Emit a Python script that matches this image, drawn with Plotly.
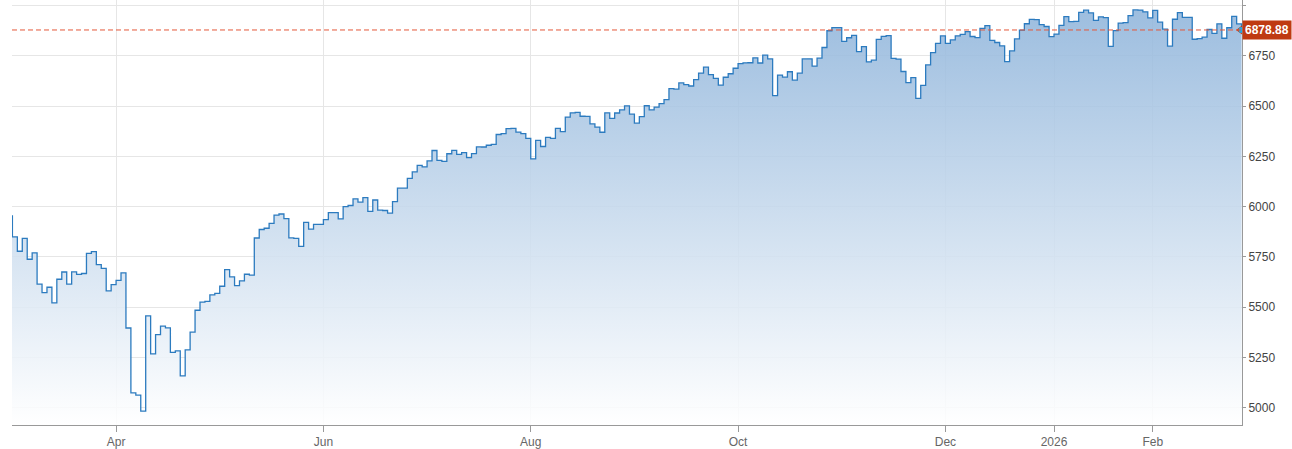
"""
S&P 500 one-year close chart (Mar 2025 - Feb 2026)
Trading-day axis (weekends and holidays removed), step line with gradient fill
"""

import plotly.graph_objects as go

# Daily closes, one entry per trading day
trade_dates = [
    "2025-02-28",
    "2025-03-03", "2025-03-04", "2025-03-05", "2025-03-06", "2025-03-07", "2025-03-10", "2025-03-11",
    "2025-03-12", "2025-03-13", "2025-03-14", "2025-03-17", "2025-03-18", "2025-03-19", "2025-03-20",
    "2025-03-21", "2025-03-24", "2025-03-25", "2025-03-26", "2025-03-27", "2025-03-28", "2025-03-31",
    "2025-04-01", "2025-04-02", "2025-04-03", "2025-04-04", "2025-04-07", "2025-04-08", "2025-04-09",
    "2025-04-10", "2025-04-11", "2025-04-14", "2025-04-15", "2025-04-16", "2025-04-17", "2025-04-21",
    "2025-04-22", "2025-04-23", "2025-04-24", "2025-04-25", "2025-04-28", "2025-04-29", "2025-04-30",
    "2025-05-01", "2025-05-02", "2025-05-05", "2025-05-06", "2025-05-07", "2025-05-08", "2025-05-09",
    "2025-05-12", "2025-05-13", "2025-05-14", "2025-05-15", "2025-05-16", "2025-05-19", "2025-05-20",
    "2025-05-21", "2025-05-22", "2025-05-23", "2025-05-27", "2025-05-28", "2025-05-29", "2025-05-30",
    "2025-06-02", "2025-06-03", "2025-06-04", "2025-06-05", "2025-06-06", "2025-06-09", "2025-06-10",
    "2025-06-11", "2025-06-12", "2025-06-13", "2025-06-16", "2025-06-17", "2025-06-18", "2025-06-20",
    "2025-06-23", "2025-06-24", "2025-06-25", "2025-06-26", "2025-06-27", "2025-06-30",
    "2025-07-01", "2025-07-02", "2025-07-03", "2025-07-07", "2025-07-08", "2025-07-09", "2025-07-10",
    "2025-07-11", "2025-07-14", "2025-07-15", "2025-07-16", "2025-07-17", "2025-07-18", "2025-07-21",
    "2025-07-22", "2025-07-23", "2025-07-24", "2025-07-25", "2025-07-28", "2025-07-29", "2025-07-30",
    "2025-07-31",
    "2025-08-01", "2025-08-04", "2025-08-05", "2025-08-06", "2025-08-07", "2025-08-08", "2025-08-11",
    "2025-08-12", "2025-08-13", "2025-08-14", "2025-08-15", "2025-08-18", "2025-08-19", "2025-08-20",
    "2025-08-21", "2025-08-22", "2025-08-25", "2025-08-26", "2025-08-27", "2025-08-28", "2025-08-29",
    "2025-09-02", "2025-09-03", "2025-09-04", "2025-09-05", "2025-09-08", "2025-09-09", "2025-09-10",
    "2025-09-11", "2025-09-12", "2025-09-15", "2025-09-16", "2025-09-17", "2025-09-18", "2025-09-19",
    "2025-09-22", "2025-09-23", "2025-09-24", "2025-09-25", "2025-09-26", "2025-09-29", "2025-09-30",
    "2025-10-01", "2025-10-02", "2025-10-03", "2025-10-06", "2025-10-07", "2025-10-08", "2025-10-09",
    "2025-10-10", "2025-10-13", "2025-10-14", "2025-10-15", "2025-10-16", "2025-10-17", "2025-10-20",
    "2025-10-21", "2025-10-22", "2025-10-23", "2025-10-24", "2025-10-27", "2025-10-28", "2025-10-29",
    "2025-10-30", "2025-10-31",
    "2025-11-03", "2025-11-04", "2025-11-05", "2025-11-06", "2025-11-07", "2025-11-10", "2025-11-11",
    "2025-11-12", "2025-11-13", "2025-11-14", "2025-11-17", "2025-11-18", "2025-11-19", "2025-11-20",
    "2025-11-21", "2025-11-24", "2025-11-25", "2025-11-26", "2025-11-28",
    "2025-12-01", "2025-12-02", "2025-12-03", "2025-12-04", "2025-12-05", "2025-12-08", "2025-12-09",
    "2025-12-10", "2025-12-11", "2025-12-12", "2025-12-15", "2025-12-16", "2025-12-17", "2025-12-18",
    "2025-12-19", "2025-12-22", "2025-12-23", "2025-12-24", "2025-12-26", "2025-12-29", "2025-12-30",
    "2025-12-31",
    "2026-01-02", "2026-01-05", "2026-01-06", "2026-01-07", "2026-01-08", "2026-01-09", "2026-01-12",
    "2026-01-13", "2026-01-14", "2026-01-15", "2026-01-16", "2026-01-20", "2026-01-21", "2026-01-22",
    "2026-01-23", "2026-01-26", "2026-01-27", "2026-01-28", "2026-01-29", "2026-01-30",
    "2026-02-02", "2026-02-03", "2026-02-04", "2026-02-05", "2026-02-06", "2026-02-09", "2026-02-10",
    "2026-02-11", "2026-02-12", "2026-02-13", "2026-02-17", "2026-02-18", "2026-02-19", "2026-02-20",
    "2026-02-23", "2026-02-24", "2026-02-25", "2026-02-26", "2026-02-27",
]

closes = [
    5954.50,
    5849.72, 5778.15, 5842.63, 5738.52, 5770.20, 5614.56, 5572.07,
    5599.30, 5521.52, 5638.94, 5675.12, 5614.66, 5675.29, 5662.89,
    5667.56, 5767.57, 5776.65, 5712.20, 5693.31, 5580.94, 5611.85,
    5633.07, 5670.97, 5396.52, 5074.08, 5062.25, 4982.77, 5456.90,
    5268.05, 5363.36, 5405.97, 5396.63, 5275.70, 5282.70, 5158.20,
    5287.76, 5375.86, 5484.77, 5525.21, 5528.75, 5560.83, 5569.06,
    5604.14, 5686.67, 5650.38, 5606.91, 5631.28, 5663.94, 5659.91,
    5844.19, 5886.55, 5892.58, 5916.93, 5958.38, 5963.60, 5940.46,
    5844.61, 5842.01, 5802.82, 5921.54, 5888.55, 5912.17, 5911.69,
    5935.94, 5970.37, 5970.81, 5939.30, 6000.36, 6005.88, 6038.81,
    6022.24, 6045.26, 5976.97, 6033.11, 5982.72, 5980.87, 5967.84,
    6025.17, 6092.18, 6092.16, 6141.02, 6173.07, 6204.95,
    6198.01, 6227.42, 6279.35, 6229.98, 6225.52, 6263.26, 6280.46,
    6259.75, 6268.56, 6243.76, 6263.70, 6297.36, 6296.79, 6305.60,
    6309.62, 6358.91, 6363.35, 6388.64, 6389.77, 6370.86, 6362.90,
    6339.39,
    6238.01, 6329.94, 6299.19, 6345.06, 6340.00, 6389.45, 6373.45,
    6445.76, 6466.58, 6468.54, 6449.80, 6449.15, 6411.37, 6395.78,
    6370.17, 6466.91, 6439.32, 6465.94, 6481.40, 6501.86, 6460.26,
    6415.54, 6448.26, 6502.08, 6481.50, 6495.15, 6512.61, 6532.04,
    6587.47, 6584.29, 6615.28, 6606.76, 6600.35, 6631.96, 6664.36,
    6693.75, 6656.92, 6637.97, 6604.72, 6643.70, 6661.21, 6688.46,
    6711.20, 6715.35, 6715.79, 6740.28, 6714.59, 6753.72, 6735.11,
    6552.51, 6654.72, 6644.31, 6671.06, 6629.07, 6664.01, 6735.13,
    6735.35, 6699.40, 6738.44, 6791.69, 6875.16, 6890.89, 6890.59,
    6822.34, 6840.20,
    6851.97, 6771.55, 6796.29, 6720.32, 6728.80, 6832.43, 6846.61,
    6850.92, 6737.49, 6734.11, 6672.41, 6617.32, 6642.16, 6538.76,
    6602.99, 6705.12, 6765.88, 6812.61, 6849.09,
    6812.63, 6829.37, 6849.72, 6857.12, 6870.40, 6846.51, 6840.51,
    6886.68, 6901.00, 6827.41, 6816.51, 6800.26, 6721.43, 6774.76,
    6834.50, 6878.49, 6909.79, 6932.05, 6929.94, 6905.74, 6896.24,
    6845.50,
    6858.47, 6902.05, 6944.82, 6920.93, 6921.46, 6966.28, 6977.27,
    6963.74, 6926.60, 6944.47, 6940.01, 6796.86, 6875.62, 6913.35,
    6915.61, 6950.23, 6978.60, 6978.03, 6969.01, 6939.03,
    6976.44, 6917.81, 6882.72, 6798.40, 6932.30, 6964.82, 6941.81,
    6941.47, 6832.76, 6836.17, 6843.22, 6881.31, 6861.89, 6909.51,
    6837.75, 6890.07, 6946.13, 6908.86, 6878.88,
]

# Market holidays inside the window (removed from the axis like weekends)
holidays = [
    "2025-04-18", "2025-05-26", "2025-06-19", "2025-07-04", "2025-09-01",
    "2025-11-27", "2025-12-25", "2026-01-01", "2026-01-19", "2026-02-16",
]

tick_dates = ["2025-04-01", "2025-06-02", "2025-08-01", "2025-10-01",
              "2025-12-01", "2026-01-02", "2026-02-02"]
tick_labels = ["Apr", "Jun", "Aug", "Oct", "Dec", "2026", "Feb"]
price_ticks = [5000, 5250, 5500, 5750, 6000, 6250, 6500, 6750, 7000]

LINE_BLUE = "#2c7bbf"
LABEL_RED = "#bf3a12"
Y_MIN, Y_MAX = 4914, 7028


def create_chart():
    """Step line of closes with a fading blue fill and a last-price tag"""
    fig = go.Figure()

    fig.add_trace(go.Scatter(
        x=trade_dates,
        y=closes,
        mode='lines',
        line=dict(color=LINE_BLUE, width=1.3, shape='hv'),
        fill='tozeroy',
        # nearly opaque so the grid only shows through faintly
        fillgradient=dict(
            type='vertical',
            colorscale=[[0, 'rgba(255,255,255,0.88)'], [1, 'rgba(141,179,218,0.88)']],
            start=Y_MIN,
            stop=Y_MAX
        ),
        hoverinfo='skip'
    ))

    # Last price: dashed level line, pointer, dot and red tag
    last_date, last_close = trade_dates[-1], closes[-1]
    fig.add_hline(y=last_close, line_dash="5px,3px", line_color="#e4573a", line_width=1)

    fig.add_trace(go.Scatter(
        x=[last_date], y=[last_close], mode='markers',
        marker=dict(symbol='triangle-left', size=11, color=LABEL_RED),
        cliponaxis=False, hoverinfo='skip'
    ))
    fig.add_trace(go.Scatter(
        x=[last_date], y=[last_close], mode='markers',
        marker=dict(size=6, color="#22a8e6"),
        cliponaxis=False, hoverinfo='skip'
    ))

    fig.add_annotation(
        x=1, xref='paper', xanchor='left',
        y=last_close, yref='y',
        text=f"<b>{last_close:.2f}</b>",
        showarrow=False,
        font=dict(size=12, color='white'),
        bgcolor=LABEL_RED,
        borderpad=2
    )

    fig.update_layout(
        width=1292,
        height=449,
        margin=dict(l=12, r=50, t=0, b=24),
        paper_bgcolor='white',
        plot_bgcolor='white',
        showlegend=False,
        font=dict(family="Arial, Liberation Sans, sans-serif", size=12),
        xaxis=dict(
            type='date',
            range=["2025-02-28 22:00", "2026-02-27 02:00"],
            rangebreaks=[dict(bounds=["sat", "mon"]), dict(values=holidays)],
            tickvals=tick_dates,
            ticktext=tick_labels,
            showgrid=True,
            gridcolor='#e6e6e6',
            showline=True,
            linecolor='#999999',
            ticks='outside',
            ticklen=6,
            tickcolor='#999999',
            tickfont=dict(size=12, color='#666666'),
            zeroline=False
        ),
        yaxis=dict(
            side='right',
            range=[Y_MIN, Y_MAX],
            tickvals=price_ticks,
            showgrid=True,
            gridcolor='#e6e6e6',
            showline=True,
            linecolor='#999999',
            ticks='outside',
            ticklen=3,
            tickcolor='#999999',
            tickfont=dict(size=12, color='#444444'),
            zeroline=False
        )
    )
    return fig


fig = create_chart()
fig.write_html("out.html", config={'displayModeBar': False},
               post_script="document.body.style.margin='0';")
